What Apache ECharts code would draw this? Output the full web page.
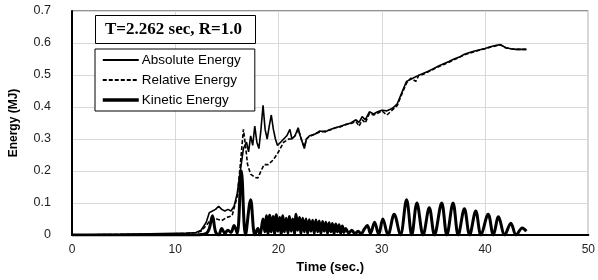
<!DOCTYPE html>
<html>
<head>
<meta charset="utf-8">
<script src="https://cdn.jsdelivr.net/npm/echarts@6/dist/echarts.min.js"></script>
<style>
  html, body { margin: 0; padding: 0; background: #fff; }
  #chart { width: 598px; height: 280px; }
</style>
</head>
<body>
<div id="chart"></div>
<script>
// 时间(sec) / 能量(MJ) 数据
var absoluteEnergy = [
  [0, 0], [5, 0.002], [10, 0.005], [11, 0.005], [12, 0.008], [12.5, 0.015], [13, 0.04], [13.3, 0.07],
  [13.6, 0.075], [13.9, 0.08], [14.2, 0.09], [14.5, 0.08], [14.8, 0.075], [15.1, 0.08], [15.4, 0.075],
  [15.7, 0.09], [16, 0.13], [16.3, 0.2], [16.6, 0.27], [16.9, 0.29], [17.1, 0.26], [17.3, 0.31],
  [17.5, 0.28], [17.7, 0.34], [17.9, 0.29], [18.1, 0.27], [18.3, 0.33], [18.5, 0.405], [18.7, 0.33],
  [18.9, 0.3], [19.1, 0.34], [19.3, 0.375], [19.5, 0.33], [19.7, 0.3], [19.9, 0.28], [20.2, 0.29],
  [20.5, 0.3], [20.8, 0.31], [21.1, 0.33], [21.3, 0.3], [21.6, 0.31], [21.9, 0.335], [22.1, 0.31],
  [22.3, 0.29], [22.5, 0.27], [22.7, 0.3], [23, 0.31], [23.5, 0.315], [24, 0.325], [24.5, 0.322],
  [25, 0.33], [25.5, 0.335], [26, 0.34], [26.5, 0.345], [27, 0.35], [27.5, 0.36], [27.8, 0.352],
  [28.1, 0.37], [28.4, 0.36], [28.8, 0.385], [29.2, 0.378], [29.6, 0.385], [30, 0.39], [30.5, 0.388],
  [31, 0.395], [31.5, 0.41], [32, 0.45], [32.4, 0.48], [33, 0.49], [33.5, 0.498], [34, 0.505],
  [34.5, 0.512], [35, 0.52], [35.5, 0.528], [36, 0.535], [36.5, 0.542], [37, 0.55], [37.5, 0.556],
  [38, 0.565], [38.5, 0.57], [39, 0.575], [39.5, 0.579], [40, 0.583], [40.5, 0.588], [41, 0.592],
  [41.5, 0.595], [42, 0.585], [42.5, 0.582], [43, 0.58], [43.5, 0.58], [44, 0.58]
]

var relativeEnergy = [
  [0, 0], [5, 0.002], [10, 0.004], [11, 0.005], [12, 0.007], [12.5, 0.012], [13, 0.03], [13.5, 0.05],
  [14, 0.05], [14.5, 0.045], [15, 0.055], [15.5, 0.06], [16, 0.12], [16.3, 0.22], [16.6, 0.33],
  [16.8, 0.28], [17, 0.22], [17.3, 0.19], [17.7, 0.18], [18, 0.178], [18.3, 0.2], [18.6, 0.22],
  [19, 0.22], [19.5, 0.235], [20, 0.26], [20.5, 0.29], [21, 0.3], [21.3, 0.3], [21.6, 0.31],
  [21.9, 0.33], [22.1, 0.31], [22.3, 0.29], [22.5, 0.275], [22.7, 0.3], [23, 0.308], [23.5, 0.315],
  [24, 0.322], [24.5, 0.325], [25, 0.328], [25.5, 0.335], [26, 0.338], [26.5, 0.345], [27, 0.348],
  [27.5, 0.355], [27.8, 0.34], [28.1, 0.36], [28.4, 0.35], [28.8, 0.38], [29.2, 0.375], [29.6, 0.38],
  [30, 0.388], [30.5, 0.375], [31, 0.39], [31.5, 0.405], [32, 0.445], [32.4, 0.475], [32.8, 0.49],
  [33.3, 0.48], [33.6, 0.5], [34, 0.502], [34.5, 0.51], [35, 0.518], [35.5, 0.526], [36, 0.533],
  [36.5, 0.54], [37, 0.548], [37.5, 0.555], [38, 0.563], [38.5, 0.568], [39, 0.573], [39.5, 0.578],
  [40, 0.582], [40.5, 0.587], [41, 0.591], [41.5, 0.594], [42, 0.585], [42.5, 0.582], [43, 0.58],
  [43.5, 0.58], [44, 0.58]
]

var kineticEnergy = [
  [0, 0], [12, 0], [13, 0.005], [13.3, 0.02], [13.6, 0.06], [13.9, 0.01], [14.2, 0], [14.5, 0.02],
  [14.8, 0.005], [15.1, 0.015], [15.4, 0.008], [15.7, 0.03], [16, 0.005], [16.4, 0.2], [16.8, 0],
  [17.3, 0.11], [17.7, 0], [18, 0.02], [18.2, 0], [18.5, 0.05], [18.66, 0.01], [18.82, 0.06],
  [18.98, 0.005], [19.14, 0.062], [19.3, 0.01], [19.46, 0.058], [19.62, 0.005], [19.78, 0.063],
  [19.94, 0.012], [20.1, 0.055], [20.26, 0.004], [20.42, 0.06], [20.58, 0.01], [20.74, 0.052],
  [20.9, 0.006], [21.06, 0.058], [21.22, 0.012], [21.38, 0.05], [21.54, 0.004], [21.7, 0.065],
  [21.86, 0.015], [22.02, 0.055], [22.18, 0.005], [22.34, 0.052], [22.5, 0.01], [22.66, 0.05],
  [22.82, 0.004], [22.98, 0.048], [23.14, 0.012], [23.3, 0.046], [23.46, 0.005], [23.62, 0.047],
  [23.78, 0.01], [23.94, 0.044], [24.1, 0.004], [24.26, 0.042], [24.42, 0.012], [24.58, 0.04],
  [24.74, 0.005], [24.9, 0.038], [25.06, 0.01], [25.22, 0.036], [25.38, 0.004], [25.54, 0.034],
  [25.7, 0.01], [25.86, 0.032], [26.02, 0.005], [26.18, 0.028], [26.34, 0.008], [26.5, 0.02],
  [26.8, 0.006], [27.1, 0.015], [27.4, 0.004], [27.7, 0.012], [28, 0.003], [28.3, 0.018],
  [28.6, 0.03], [28.9, 0.005], [29.3, 0.04], [29.7, 0.002], [30.1, 0.05], [30.6, 0], [31.2, 0.065],
  [31.8, 0], [32.4, 0.11], [32.9, 0], [33.4, 0.1], [34, 0], [34.6, 0.085], [35.1, 0], [35.8, 0.1],
  [36.3, 0], [36.9, 0.1], [37.4, 0], [38, 0.082], [38.5, 0], [39.1, 0.075], [39.6, 0], [40.3, 0.065],
  [40.8, 0], [41.3, 0.057], [41.9, 0], [42.5, 0.037], [43, 0], [43.6, 0.022], [44, 0.012]
]

var xTicks = [0, 10, 20, 30, 40, 50]
var yTicks = [0, 0.1, 0.2, 0.3, 0.4, 0.5, 0.6, 0.7]

var chart = echarts.init(document.getElementById('chart'))
var option = {
  animation: false,
  title: {
    text: 'T=2.262 sec, R=1.0',
    left: 95,
    top: 15,
    padding: [6, 14, 6, 10],
    borderColor: '#000',
    borderWidth: 1,
    backgroundColor: '#fff',
    textStyle: {
      fontFamily: 'Liberation Serif',
      fontWeight: 'bold',
      fontSize: 17,
      color: '#000'
    }
  },
  legend: {
    orient: 'vertical',
    left: 95,
    top: 49,
    padding: [4, 14, 4, 6],
    itemGap: 6,
    itemWidth: 36,
    itemHeight: 14,
    borderColor: '#000',
    borderWidth: 1,
    backgroundColor: '#fff',
    itemStyle: { opacity: 0 },
    textStyle: { fontFamily: 'Liberation Sans', fontSize: 13.5, color: '#000', padding: [0, 0, 0, -2] },
    data: [
      { name: 'Absolute Energy', lineStyle: { width: 2 } },
      { name: 'Relative Energy', lineStyle: { width: 2 } },
      { name: 'Kinetic Energy', lineStyle: { width: 3.5 } }
    ]
  },
  grid: {
    left: 71, right: 5, top: 11, bottom: 45,
    show: true, borderColor: '#222', borderWidth: 1
  },
  xAxis: {
    type: 'value',
    min: 0, max: 50, interval: 10,
    name: 'Time (sec.)',
    nameLocation: 'middle',
    nameGap: 23,
    nameTextStyle: { fontFamily: 'Liberation Sans', fontWeight: 'bold', fontSize: 13, color: '#000' },
    axisLine: { show: true, onZero: false, lineStyle: { color: '#000', width: 2 } },
    axisTick: { show: false },
    axisLabel: { fontFamily: 'Liberation Sans', fontSize: 12, color: '#222', margin: 9 },
    splitLine: { show: true, lineStyle: { color: '#d9d9d9', width: 1 } }
  },
  yAxis: {
    type: 'value',
    min: 0, max: 0.7, interval: 0.1,
    name: 'Energy (MJ)',
    nameLocation: 'middle',
    nameGap: 52,
    nameTextStyle: { fontFamily: 'Liberation Sans', fontWeight: 'bold', fontSize: 12, color: '#000' },
    axisLine: { show: true, lineStyle: { color: '#000', width: 2 } },
    axisTick: { show: false },
    axisLabel: {
      fontFamily: 'Liberation Sans', fontSize: 12.5, color: '#222', margin: 21,
      formatter: function (v) { return v === 0 ? '0' : v.toFixed(1) }
    },
    splitLine: { show: true, lineStyle: { color: '#d9d9d9', width: 1 } }
  },
  series: [
    {
      name: 'Absolute Energy', type: 'line', symbol: 'none', data: absoluteEnergy,
      lineStyle: { color: '#000', width: 1.6 }, itemStyle: { color: '#000' }
    },
    {
      name: 'Relative Energy', type: 'line', symbol: 'none', data: relativeEnergy,
      lineStyle: { color: '#000', width: 1.6, type: [4, 2] }, itemStyle: { color: '#000' }
    },
    {
      name: 'Kinetic Energy', type: 'line', symbol: 'none', smooth: 0.35, data: kineticEnergy,
      lineStyle: { color: '#000', width: 3 }, itemStyle: { color: '#000' }
    }
  ]
}
chart.setOption(option)
</script>
</body>
</html>
